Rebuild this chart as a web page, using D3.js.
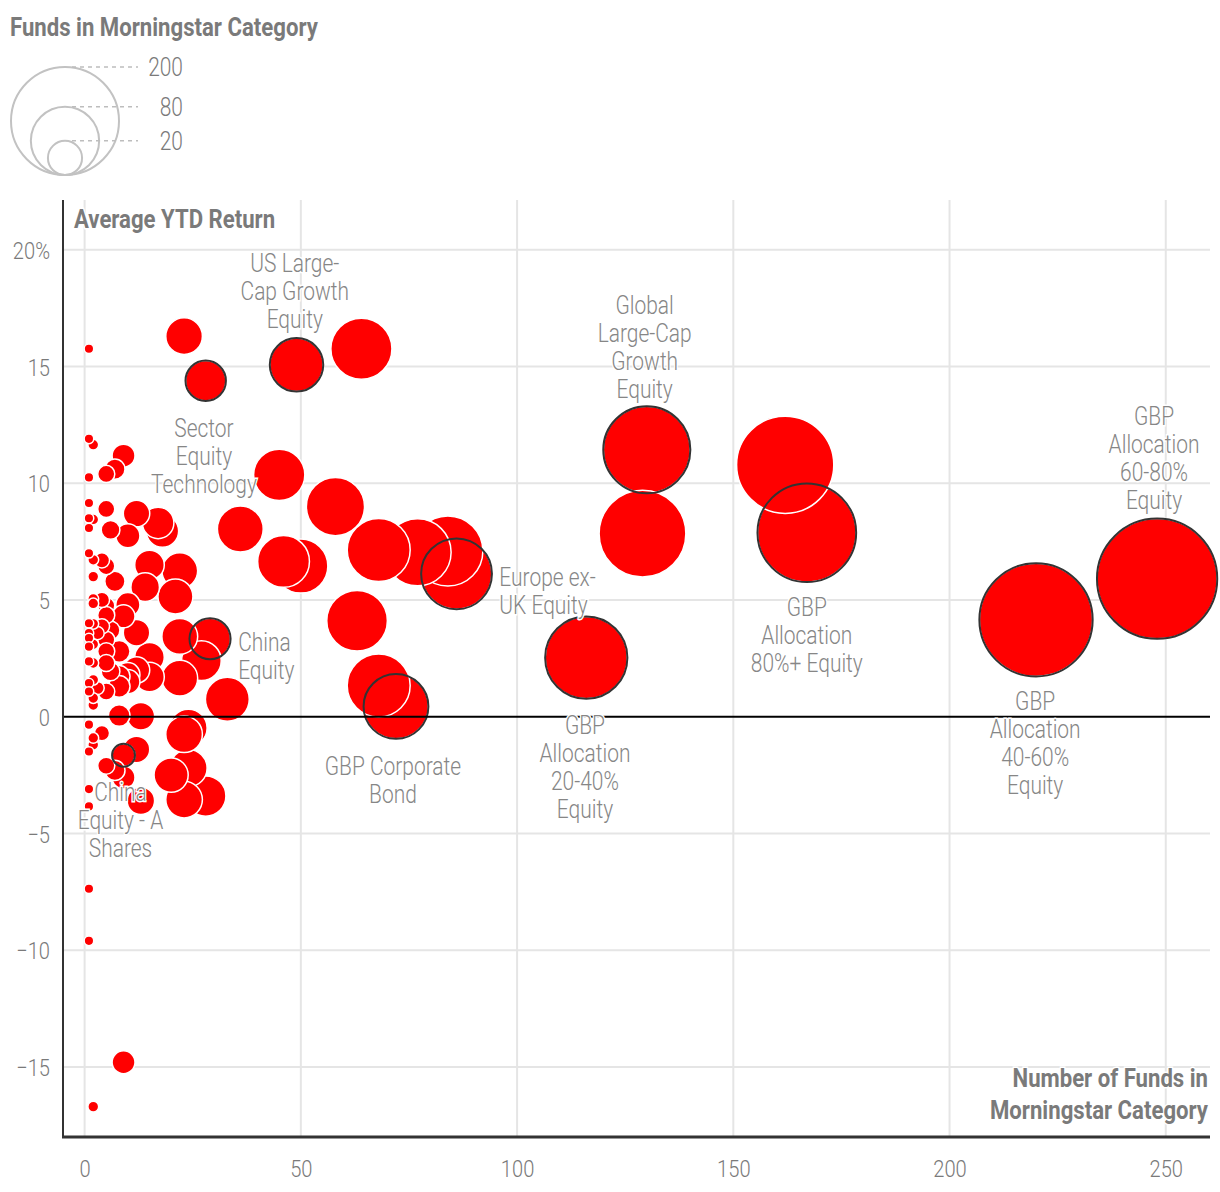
<!DOCTYPE html>
<html><head><meta charset="utf-8">
<script src="https://cdn.jsdelivr.net/npm/d3@7"></script>
<style>
html,body{margin:0;padding:0;background:#fff;}
svg text{font-family:Roboto,"Liberation Sans",sans-serif;}
</style></head>
<body><svg id="chart" width="1220" height="1192"></svg>
<script>
// ---- data ----
const funds = [1,23,64,49,28,1,2,9,7,5,1,45,162,130,1,5,12,58,17,18,1,2,1,6,10,36,129,167,68,77,84,86,46,50,1,2,4,5,2,7,15,22,14,21,248,220,63,2,2,4,5,10,9,5,1,2,4,1,3,6,12,22,29,27,1,2,1,5,8,5,1,2,5,15,12,10,8,6,15,22,1,2,3,5,1,8,10,116,68,72,33,2,2,8,13,1,4,24,23,9,12,1,2,2,5,7,9,1,13,1,20,24,23,28,1,1,9,2];
const returns = [15.76,16.3,15.76,15.07,14.39,11.9,11.65,11.18,10.6,10.4,10.25,10.36,10.79,11.43,9.15,8.9,8.7,9.0,8.3,7.95,8.5,8.45,8.08,8.0,7.75,8.04,7.84,7.88,7.14,7.04,7.1,6.12,6.65,6.45,7.0,6.72,6.7,6.45,6.0,5.8,6.5,6.25,5.55,5.15,5.91,4.15,4.11,5.05,4.85,5.0,4.75,4.8,4.3,4.35,4.0,3.98,3.87,3.58,3.58,3.7,3.6,3.44,3.34,2.4,3.37,3.1,3.0,3.3,2.8,2.8,2.37,2.3,2.3,2.55,2.0,1.8,1.73,1.94,1.7,1.65,1.44,1.58,1.23,1.08,1.08,1.3,1.5,2.53,1.34,0.44,0.75,0.5,0.8,0.05,0.02,-0.34,-0.7,-0.48,-0.75,-1.65,-1.4,-1.49,-1.2,-0.91,-2.1,-2.3,-2.6,-3.1,-3.6,-3.84,-2.5,-2.2,-3.55,-3.4,-7.37,-9.6,-14.8,-16.7];
// highlighted categories (index into arrays above)
const highlightIdx = [3,4,13,27,31,44,45,62,87,89,99];
// labels: lines, anchor position in data units (funds, return), alignment
const labelLines = [
  ["US Large-","Cap Growth","Equity"],
  ["Sector","Equity","Technology"],
  ["Global","Large-Cap","Growth","Equity"],
  ["GBP","Allocation","60-80%","Equity"],
  ["Europe ex-","UK Equity"],
  ["China","Equity"],
  ["GBP","Allocation","80%+ Equity"],
  ["GBP Corporate","Bond"],
  ["GBP","Allocation","20-40%","Equity"],
  ["GBP","Allocation","40-60%","Equity"],
  ["China","Equity - A","Shares"]
];
const labelX = [48.6, 27.6, 129.5, 247.3, 95.9, 35.5, 167.0, 71.3, 115.7, 219.8, 8.3];
const labelY = [19.05, 11.98, 17.25, 12.49, 5.6, 2.81, 4.31, -2.48, -0.72, 0.29, -3.6];
const labelAlign = ["middle","middle","middle","middle","start","start","middle","middle","middle","middle","middle"];
const xTicks = [0,50,100,150,200,250];
const yTicks = [-15,-10,-5,0,5,10,15,20];
const legendValues = [200,80,20];

// ---- layout ----
const svg = d3.select("#chart");
const x = d3.scaleLinear().domain([-5,260]).range([63,1209]);
const y = d3.scaleLinear().domain([-18,22.13]).range([1137,200]);
const r = d3.scaleSqrt().domain([0,200]).range([0,54]);
const rr = n => Math.max(r(n), 4.8);
const grey = "#7a7a7a";
const labelGrey = "#868686";

// measure helper for condensed look
function measure(str, size, weight){
  const t = svg.append("text").attr("font-size",size).attr("font-weight",weight).text(str);
  const w = t.node().getComputedTextLength(); t.remove(); return w;
}
const fLight = 106 / measure("Technology", 25, 300);
const fBold = 308 / measure("Funds in Morningstar Category", 26, 700);
function condense(sel, f){
  sel.each(function(){
    const e = d3.select(this);
    const ax = +e.attr("x") || 0;
    const prev = e.attr("transform") || "";
    e.attr("transform", prev + ` translate(${ax},0) scale(${f},1) translate(${-ax},0)`);
  });
}

// gridlines
const grid = svg.append("g");
grid.selectAll(".vg").data(xTicks).join("line")
  .attr("x1",d=>x(d)).attr("x2",d=>x(d)).attr("y1",200).attr("y2",1137)
  .attr("stroke","#e5e5e5").attr("stroke-width",2);
grid.selectAll(".hg").data(yTicks.filter(d=>d!==0)).join("line")
  .attr("x1",63).attr("x2",1210).attr("y1",d=>y(d)).attr("y2",d=>y(d))
  .attr("stroke","#e5e5e5").attr("stroke-width",2);

// axes labels via d3 axes
const yAxis = d3.axisLeft(y).tickValues(yTicks).tickSize(0).tickPadding(13)
  .tickFormat(d=> d===20 ? "20%" : (d<0 ? "\u2212"+Math.abs(d) : String(d)));
const gy = svg.append("g").attr("transform","translate(63,0)").call(yAxis);
gy.select(".domain").remove();
gy.selectAll("text").attr("font-size",24).attr("font-weight",300).attr("fill",grey).attr("dy","0.36em")
  .style("font-family","Roboto,sans-serif");
condense(gy.selectAll("text"), fLight);

const xAxis = d3.axisBottom(x).tickValues(xTicks).tickSize(0).tickPadding(23);
const gx = svg.append("g").attr("transform","translate(0,1137)").call(xAxis);
gx.select(".domain").remove();
gx.selectAll("text").attr("font-size",24).attr("font-weight",300).attr("fill",grey)
  .style("font-family","Roboto,sans-serif");
condense(gx.selectAll("text"), fLight);

// data points
const pts = funds.map((n,i)=>({n, v:returns[i], i, hl: highlightIdx.includes(i)}));
const sorted = pts.slice().sort((a,b)=>b.n-a.n);
svg.append("g").selectAll("circle").data(sorted).join("circle")
  .attr("cx",d=>x(d.n)).attr("cy",d=>y(d.v)).attr("r",d=>rr(d.n))
  .attr("fill","#ff0000").attr("stroke","#fff").attr("stroke-width",1.5);
svg.append("g").selectAll("circle").data(pts.filter(d=>d.hl)).join("circle")
  .attr("cx",d=>x(d.n)).attr("cy",d=>y(d.v)).attr("r",d=>rr(d.n))
  .attr("fill","none").attr("stroke","#333").attr("stroke-width",2);

// zero line and axis lines
svg.append("line").attr("x1",63).attr("x2",1210).attr("y1",y(0)).attr("y2",y(0))
  .attr("stroke","#000").attr("stroke-width",2);
svg.append("line").attr("x1",63).attr("x2",63).attr("y1",200).attr("y2",1138)
  .attr("stroke","#333").attr("stroke-width",2);
svg.append("line").attr("x1",62).attr("x2",1210).attr("y1",1137).attr("y2",1137)
  .attr("stroke","#333").attr("stroke-width",3);

// category labels
const lg = svg.append("g");
labelLines.forEach((lines,k)=>{
  const t = lg.append("text")
    .attr("x",x(labelX[k])).attr("y",y(labelY[k]))
    .attr("text-anchor",labelAlign[k]).attr("font-size",25).attr("font-weight",300).attr("fill",labelGrey)
    .attr("stroke","#fff").attr("stroke-width",3).attr("paint-order","stroke");
  lines.forEach((s,j)=>{
    t.append("tspan").attr("x",x(labelX[k])).attr("dy", j===0?0:28).text(s);
  });
  condense(t, fLight);
});

// axis titles
const yt = svg.append("text").attr("x",74).attr("y",228).attr("font-size",26).attr("font-weight",700)
  .attr("fill",grey).attr("stroke","#fff").attr("stroke-width",3).attr("paint-order","stroke")
  .text("Average YTD Return");
condense(yt, fBold);
const xt = svg.append("text").attr("x",1208).attr("y",1087).attr("text-anchor","end")
  .attr("font-size",26).attr("font-weight",700).attr("fill",grey)
  .attr("stroke","#fff").attr("stroke-width",3).attr("paint-order","stroke");
xt.append("tspan").attr("x",1208).text("Number of Funds in");
xt.append("tspan").attr("x",1208).attr("dy",32).text("Morningstar Category");
condense(xt, fBold);

// size legend
const lt = svg.append("text").attr("x",10).attr("y",36).attr("font-size",26).attr("font-weight",700)
  .attr("fill",grey).text("Funds in Morningstar Category");
condense(lt, fBold);
const legBottom = 175, legCx = 65;
const leg = svg.append("g");
leg.selectAll("circle").data(legendValues).join("circle")
  .attr("cx",legCx).attr("cy",d=>legBottom - r(d)).attr("r",d=>r(d))
  .attr("fill","none").attr("stroke","#c2c2c2").attr("stroke-width",2);
leg.selectAll("line").data(legendValues).join("line")
  .attr("x1",72).attr("x2",138)
  .attr("y1",d=>legBottom - 2*r(d)).attr("y2",d=>legBottom - 2*r(d))
  .attr("stroke","#bdbdbd").attr("stroke-width",1.5).attr("stroke-dasharray","4,4");
const legText = leg.selectAll("text").data(legendValues).join("text")
  .attr("x",183).attr("y",d=>legBottom - 2*r(d) + 9)
  .attr("text-anchor","end").attr("font-size",25).attr("font-weight",300).attr("fill",grey).text(d=>d);
condense(legText, fLight);
</script></body></html>
